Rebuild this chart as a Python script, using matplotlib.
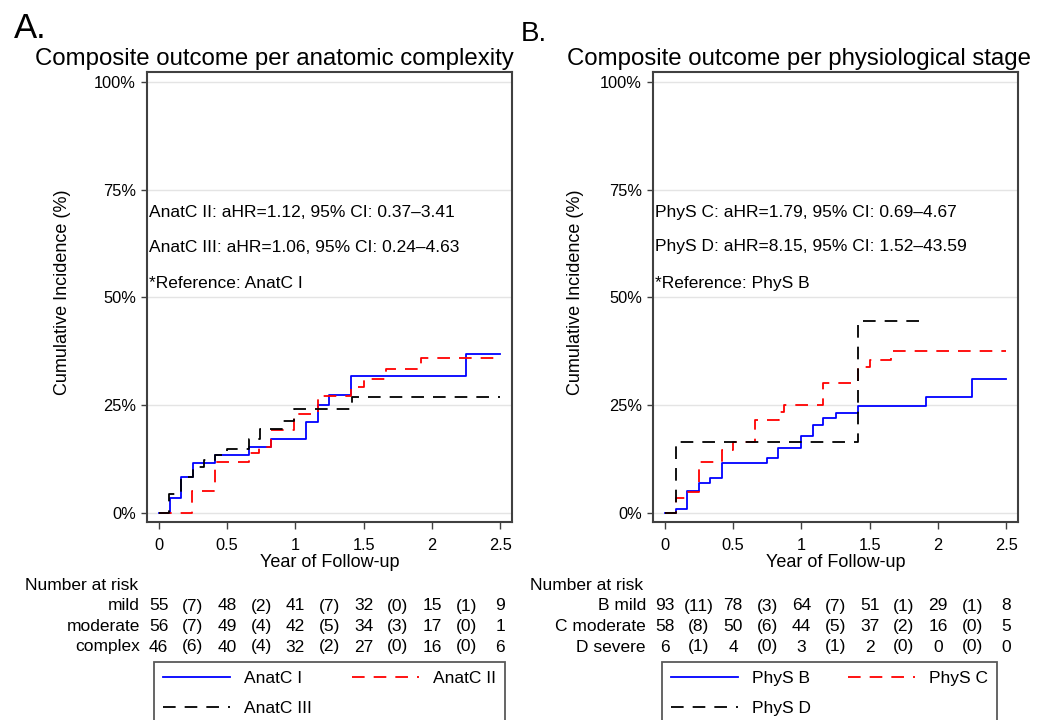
import numpy as np
import matplotlib
matplotlib.use("Agg")
import matplotlib.pyplot as plt
from matplotlib.transforms import blended_transform_factory

plt.rcParams['font.family'] = ['Liberation Sans', 'DejaVu Sans']

# ---- data: cumulative incidence (%) step curves ----
t_anat1 = [0, 0.08, 0.166, 0.25, 0.416, 0.664, 0.82, 1.078, 1.163, 1.243, 1.406, 2.25, 2.5]
ci_anat1 = [0, 3.4, 8.3, 11.7, 13.5, 15.4, 17.1, 21.2, 25.1, 27.4, 31.8, 36.8, 36.8]
t_anat2 = [0, 0.246, 0.416, 0.664, 0.737, 0.82, 0.99, 1.163, 1.406, 1.504, 1.66, 1.917, 2.5]
ci_anat2 = [0, 5.0, 11.8, 13.8, 15.3, 19.2, 23.0, 27.1, 29.2, 31.1, 33.3, 35.9, 35.9]
t_anat3 = [0, 0.073, 0.166, 0.25, 0.33, 0.416, 0.5, 0.664, 0.745, 0.91, 0.99, 1.416, 2.5]
ci_anat3 = [0, 4.3, 8.3, 10.7, 12.4, 13.5, 14.8, 17.1, 19.4, 21.3, 24.1, 26.8, 26.8]

t_physB = [0, 0.08, 0.165, 0.25, 0.33, 0.42, 0.748, 0.833, 1.0, 1.083, 1.16, 1.25, 1.415, 1.91, 2.245, 2.5]
ci_physB = [0, 0.9, 5.0, 7.0, 8.2, 11.6, 12.7, 15.1, 17.9, 20.4, 22.0, 23.3, 24.8, 26.8, 31.1, 31.1]
t_physC = [0, 0.085, 0.165, 0.25, 0.42, 0.5, 0.663, 0.834, 0.87, 1.155, 1.415, 1.5, 1.657, 2.5]
ci_physC = [0, 3.4, 4.9, 11.8, 14.7, 16.5, 21.6, 23.4, 25.1, 30.2, 33.9, 35.6, 37.6, 37.6]
t_physD = [0, 0.08, 1.415, 1.87]
ci_physD = [0, 16.5, 44.5, 44.5]

# ---- number at risk tables ----
risk_times = [0, 0.5, 1, 1.5, 2, 2.5]
rows_anat = ["mild", "moderate", "complex"]
risk_anat = [[55, 48, 41, 32, 15, 9], [56, 49, 42, 34, 17, 1], [46, 40, 32, 27, 16, 6]]
events_anat = [[7, 2, 7, 0, 1], [7, 4, 5, 3, 0], [6, 4, 2, 0, 0]]
rows_phys = ["B mild", "C moderate", "D severe"]
risk_phys = [[93, 78, 64, 51, 29, 8], [58, 50, 44, 37, 16, 5], [6, 4, 3, 2, 0, 0]]
events_phys = [[11, 3, 7, 1, 1], [8, 6, 5, 2, 0], [1, 0, 1, 0, 0]]

notes_anat = ["AnatC II: aHR=1.12, 95% CI: 0.37\u20133.41",
              "AnatC III: aHR=1.06, 95% CI: 0.24\u20134.63",
              "*Reference: AnatC I"]
notes_phys = ["PhyS C: aHR=1.79, 95% CI: 0.69\u20134.67",
              "PhyS D: aHR=8.15, 95% CI: 1.52\u201343.59",
              "*Reference: PhyS B"]

W, H = 1051, 720
fig = plt.figure(figsize=(W / 100, H / 100), dpi=100)

def fy(p):
    return 1 - p / H

def fx(p):
    return p / W

DASH = (0, (7, 5))

def panel(left_px, letter, letter_size, title, title_x, series, labels, notes,
          rows, risk, events, label_right_px, nar_x_px, leg_box):
    ax = fig.add_axes([fx(left_px), fy(522), 365 / W, 450 / H])
    styles = [dict(color='#0000ff', ls='-'), dict(color='#ff0000', ls=DASH),
              dict(color='black', ls=DASH)]
    handles = []
    for (t, v), st, lab in zip(series, styles, labels):
        h, = ax.step(t, v, where='post', lw=1.3, label=lab, **st)
        handles.append(h)
    ax.set_xlim(-0.085, 2.585)
    ax.set_ylim(-2.1, 102.3)
    ax.set_yticks([0, 25, 50, 75, 100])
    ax.set_yticklabels(['0%', '25%', '50%', '75%', '100%'])
    ax.set_xticks([0, 0.5, 1, 1.5, 2, 2.5])
    ax.set_xticklabels(['0', '0.5', '1', '1.5', '2', '2.5'])
    ax.tick_params(axis='y', length=4, width=1, pad=4, labelsize=11.8, color='#404040')
    ax.tick_params(axis='x', length=5, width=1, pad=6.5, labelsize=11.8, color='#404040')
    ax.grid(axis='y', color='#e4e4e4', lw=1)
    ax.set_axisbelow(True)
    for s in ax.spines.values():
        s.set_color('#404040')
        s.set_linewidth(1.5)
    ax.set_xlabel('Year of Follow-up', fontsize=13, labelpad=1)
    ax.set_ylabel('Cumulative Incidence (%)', fontsize=13)
    ax.yaxis.set_label_coords((label_right_px - left_px) / 365, 0.51)

    for yp, txt in zip([212, 247, 284], notes):
        fig.text(fx(left_px + 2), fy(yp), txt, fontsize=12.5, va='center', ha='left')

    fig.text(fx(letter[1]), fy(letter[2]), letter[0], fontsize=letter_size, va='baseline')
    fig.text(fx(title_x), fy(65), title, fontsize=17.3, va='baseline')

    tr = blended_transform_factory(ax.transData, fig.transFigure)
    fig.text(fx(nar_x_px), fy(586), 'Number at risk', fontsize=12.5, va='center')
    for i, (rname, r, e) in enumerate(zip(rows, risk, events)):
        yy = fy(606 + 20.5 * i)
        fig.text(fx(left_px - 7), yy, rname, fontsize=12.5, va='center', ha='right')
        for tt, n in zip(risk_times, r):
            ax.text(tt, yy, str(n), transform=tr, fontsize=12.5, va='center', ha='center')
        for k, n in enumerate(e):
            mid = (risk_times[k] + risk_times[k + 1]) / 2
            ax.text(mid, yy, '(%d)' % n, transform=tr, fontsize=12.5, va='center', ha='center')

    # legend: row 1 = first two series, row 2 = third (matplotlib fills by column)
    x0, x1 = leg_box
    leg = fig.legend(handles=[handles[0], handles[2], handles[1]], loc='upper left',
                     bbox_to_anchor=(fx(x0), fy(663), (x1 - x0) / W, 0.001),
                     mode='expand', ncol=2, fontsize=12.5, frameon=True, fancybox=False,
                     handlelength=3.9, handletextpad=0.8, borderpad=0.5, labelspacing=0.85,
                     borderaxespad=0)
    leg.get_frame().set_edgecolor('#303030')
    leg.get_frame().set_linewidth(1.3)
    return ax

panel(147, ('A.', 14, 38), 25, 'Composite outcome per anatomic complexity', 35,
      [(t_anat1, ci_anat1), (t_anat2, ci_anat2), (t_anat3, ci_anat3)],
      ['AnatC I', 'AnatC II', 'AnatC III'], notes_anat,
      rows_anat, risk_anat, events_anat, 71, 25, (154, 505))

panel(653, ('B.', 521, 41), 20, 'Composite outcome per physiological stage', 567,
      [(t_physB, ci_physB), (t_physC, ci_physC), (t_physD, ci_physD)],
      ['PhyS B', 'PhyS C', 'PhyS D'], notes_phys,
      rows_phys, risk_phys, events_phys, 584, 530, (662, 997))

fig.savefig('out.png', dpi=100, facecolor='white')
